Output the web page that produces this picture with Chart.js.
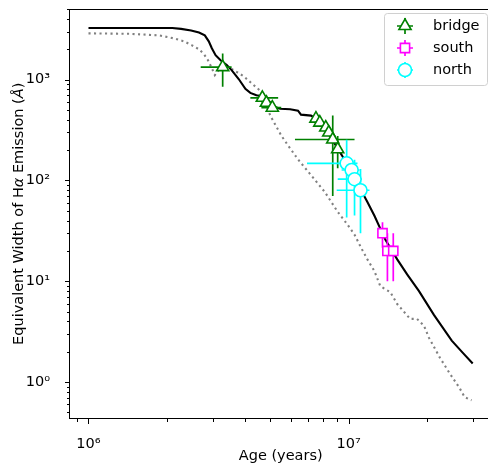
<!DOCTYPE html>
<html>
<head>
<meta charset="utf-8">
<script src="https://cdn.jsdelivr.net/npm/chart.js@4.4.1/dist/chart.umd.min.js"></script>
<style>
    html, body { margin: 0; padding: 0; background: #fff; overflow: hidden; }
    #wrap { width: 500px; height: 465px; }
</style>
</head>
<body>
<div id="wrap"><canvas id="myChart" width="500" height="465"></canvas></div>
<script>
// --------------------------- DATA ---------------------------

// model track (solid black)
const modelAge = [1.0e6, 2.10e6, 2.27e6, 2.48e6, 2.66e6, 2.80e6, 2.90e6, 2.98e6, 3.08e6, 3.22e6, 3.40e6, 3.55e6,
    3.78e6, 4.01e6, 4.19e6, 4.42e6, 4.79e6, 4.96e6, 5.18e6, 5.46e6, 5.96e6, 6.39e6, 6.56e6, 7.17e6, 7.49e6,
    8.03e6, 8.54e6, 9.08e6, 9.57e6, 1.009e7, 1.063e7, 1.121e7, 1.181e7, 1.257e7, 1.324e7, 1.384e7, 1.459e7,
    1.538e7, 1.679e7, 1.865e7, 2.128e7, 2.492e7, 2.744e7, 3.0e7];
const modelEW = [3260, 3250, 3190, 3080, 2940, 2750, 2400, 2050, 1750, 1560, 1395, 1245,
    1015, 810, 740, 700, 676, 603, 539, 515, 509, 492, 450, 440, 411,
    343, 267, 208, 166, 132, 103, 78.6, 61.3, 44.7, 33.3, 25.9, 20.7,
    16.5, 11.7, 7.99, 4.64, 2.58, 1.96, 1.53];

// second model track (grey dotted)
const altAge = [1.0e6, 1.44e6, 1.87e6, 2.13e6, 2.33e6, 2.50e6, 2.66e6, 2.78e6, 2.88e6, 2.98e6, 3.06e6, 3.17e6,
    3.31e6, 3.46e6, 3.61e6, 3.94e6, 4.31e6, 4.58e6, 4.79e6, 5.00e6, 5.51e6, 5.85e6, 6.39e6, 7.17e6, 8.10e6,
    9.08e6, 9.91e6, 1.054e7, 1.111e7, 1.181e7, 1.257e7, 1.324e7, 1.446e7, 1.538e7, 1.724e7, 1.833e7, 1.949e7,
    2.036e7, 2.243e7, 2.448e7, 2.673e7, 2.793e7, 2.97e7];
const altEW = [2880, 2850, 2750, 2570, 2400, 2190, 2000, 1790, 1560, 1300, 1110, 1245,
    1365, 1335, 1245, 1087, 887, 774, 590, 440, 279, 223, 162, 113, 76.9,
    48.9, 36.4, 29.0, 22.1, 16.5, 12.6, 8.95, 7.81, 5.95, 4.24, 4.24, 3.62,
    2.76, 1.75, 1.22, 0.87, 0.71, 0.66];

// bridge clusters
const bridgeAge    = [3.28e6, 4.66e6, 4.83e6, 5.09e6, 7.49e6, 7.75e6, 8.17e6, 8.39e6, 8.69e6, 9.08e6];
const bridgeEW     = [1333, 661, 590, 527, 411, 375, 335, 299, 255, 204];
const bridgeAgeLo  = [0.58e6, 0.47e6, 0.20e6, 0.47e6, 0, 0, 0, 0, 2.47e6, 0];   // minus error
const bridgeAgeHi  = [0.27e6, 0.70e6, 0.17e6, 0.42e6, 0, 0, 0, 0, 1.85e6, 0];   // plus error
const bridgeEWErr  = [480, 30, 30, 30, 0, 0, 0, 0, 185, 72];

// south clusters
const southAge    = [1.35e7, 1.41e7, 1.485e7];
const southEW     = [30, 20, 20];
const southAgeLo  = [0, 0, 0];
const southAgeHi  = [0, 0, 0];
const southEWErr  = [8.5, 10, 10];

// north clusters
const northAge    = [9.83e6, 1.027e7, 1.054e7, 1.111e7];
const northEW     = [148, 127, 103, 80];
const northAgeLo  = [2.91e6, 0.87e6, 1.46e6, 2.11e6];
const northAgeHi  = [0.99e6, 0.74e6, 0.70e6, 0.92e6];
const northEWErr  = [105, 25, 58, 50];

// axes
const xLimits = [8.49e5, 3.54e7];
const yLimits = [0.4306, 5070];
const superDigits = ['⁰', '¹', '²', '³', '⁴', '⁵', '⁶', '⁷', '⁸', '⁹'];
// y title pieces: [text, italic]
const yTitleParts = [['Equivalent Width of H', false], ['α', true], [' Emission (', false], ['Å', true], [')', false]];

// --------------------------- HELPERS ---------------------------

const toPoints = (xs, ys) => xs.map((v, i) => ({x: v, y: ys[i]}));
const toErrors = (lo, hi, ey) => lo.map((v, i) => ({xl: v, xh: hi[i], y: ey[i]}));

// every 1..9 x 10^n inside the limits
const logTicks = (lim) => {
    let out = [];
    for (let e = Math.floor(Math.log10(lim[0])); e <= Math.ceil(Math.log10(lim[1])); e++) {
        for (let k = 1; k <= 9; k++) {
            let v = k * Math.pow(10, e);
            if (v >= lim[0] && v <= lim[1]) out.push(v);
        }
    }
    return out;
};
const isDecade = (v) => Math.abs(Math.log10(v) - Math.round(Math.log10(v))) < 1e-9;
const decadeLabel = (v) => isDecade(v) ? '10' + superDigits[Math.round(Math.log10(v))] : '';

const FONT = {family: 'DejaVu Sans', size: 14.5};
const fontCss = (italic) => (italic ? 'italic ' : '') + FONT.size + 'px "' + FONT.family + '"';

// --------------------------- PLUGINS ---------------------------

// error bars, drawn just under each dataset's markers
const errorBars = {
    id: 'errorBars',
    beforeDatasetDraw(chart, args) {
        const ds = chart.data.datasets[args.index];
        if (!ds.err) return;
        const {ctx, chartArea: a, scales: {x, y}} = chart;
        ctx.save();
        ctx.beginPath();
        ctx.rect(a.left, a.top, a.right - a.left, a.bottom - a.top);
        ctx.clip();
        ctx.strokeStyle = ds.borderColor;
        ctx.lineWidth = 1.7;
        ds.data.forEach((p, i) => {
            const e = ds.err[i];
            const px = x.getPixelForValue(p.x), py = y.getPixelForValue(p.y);
            ctx.beginPath();
            if (e.xl || e.xh) {
                ctx.moveTo(x.getPixelForValue(p.x - e.xl), py);
                ctx.lineTo(x.getPixelForValue(p.x + e.xh), py);
            }
            if (e.y) {
                ctx.moveTo(px, y.getPixelForValue(Math.max(p.y - e.y, yLimits[0] / 10)));
                ctx.lineTo(px, y.getPixelForValue(p.y + e.y));
            }
            ctx.stroke();
        });
        ctx.restore();
    }
};

// axes box + matplotlib style tick marks + y title with italic symbols
const frame = {
    id: 'frame',
    afterDraw(chart) {
        const {ctx, chartArea: a, scales: {x, y}} = chart;
        ctx.save();
        ctx.strokeStyle = '#000';
        ctx.lineWidth = 1;
        ctx.strokeRect(Math.round(a.left) - 0.5, Math.round(a.top) + 0.5,
            Math.round(a.right - a.left), Math.round(a.bottom - a.top) - 1);
        ctx.beginPath();
        logTicks(xLimits).forEach(v => {
            const px = Math.round(x.getPixelForValue(v)) + 0.5;
            const len = isDecade(v) ? 5 : 3;
            ctx.moveTo(px, a.bottom);
            ctx.lineTo(px, a.bottom + len);
        });
        logTicks(yLimits).forEach(v => {
            const py = Math.round(y.getPixelForValue(v)) + 0.5;
            const len = isDecade(v) ? 5 : 3;
            ctx.moveTo(a.left, py);
            ctx.lineTo(a.left - len, py);
        });
        ctx.stroke();

        // y title
        ctx.translate(19, (a.top + a.bottom) / 2);
        ctx.rotate(-Math.PI / 2);
        ctx.fillStyle = '#000';
        ctx.textBaseline = 'middle';
        ctx.textAlign = 'left';
        let total = 0;
        yTitleParts.forEach(([t, it]) => { ctx.font = fontCss(it); total += ctx.measureText(t).width; });
        let cx = -total / 2;
        yTitleParts.forEach(([t, it]) => {
            ctx.font = fontCss(it);
            ctx.fillText(t, cx, 0);
            cx += ctx.measureText(t).width;
        });
        ctx.restore();
    }
};

// legend box in the upper right corner
const cornerLegend = {
    id: 'cornerLegend',
    afterDraw(chart) {
        const ctx = chart.ctx;
        const items = chart.data.datasets.filter(d => d.err);
        const bx = 384.5, by = 13.5, bw = 103, bh = 72, r = 3;
        ctx.save();
        ctx.beginPath();
        ctx.roundRect(bx, by, bw, bh, r);
        ctx.fillStyle = 'rgba(255,255,255,0.8)';
        ctx.fill();
        ctx.strokeStyle = '#d0d0d0';
        ctx.lineWidth = 1;
        ctx.stroke();
        items.forEach((d, i) => {
            const mx = 405, my = 26 + i * 22;
            ctx.strokeStyle = d.borderColor;
            ctx.lineWidth = 1.7;
            ctx.beginPath();
            ctx.moveTo(mx - 8, my); ctx.lineTo(mx + 8, my);
            ctx.moveTo(mx, my - 8); ctx.lineTo(mx, my + 8);
            ctx.stroke();
            ctx.fillStyle = '#fff';
            ctx.lineWidth = d.borderWidth;
            Chart.helpers.drawPoint(ctx, {pointStyle: d.pointStyle, radius: d.pointRadius, rotation: 0,
                borderWidth: d.borderWidth}, mx, my);
            ctx.fillStyle = '#000';
            ctx.font = fontCss(false);
            ctx.textBaseline = 'middle';
            ctx.textAlign = 'left';
            ctx.fillText(d.label, 433, my);
        });
        ctx.restore();
    }
};

// --------------------------- CHART ---------------------------

const markerSet = (label, xs, ys, lo, hi, ey, color, style, radius, order) => ({
    label: label,
    data: toPoints(xs, ys),
    err: toErrors(lo, hi, ey),
    showLine: false,
    pointStyle: style,
    pointRadius: radius,
    pointHoverRadius: radius,
    borderColor: color,
    backgroundColor: '#fff',
    pointBackgroundColor: '#fff',
    borderWidth: 1.6,
    order: order
});

let ctx = document.querySelector('#myChart');
let myChart = new Chart(ctx, {
    type: 'scatter',
    data: {
        datasets: [
            markerSet('bridge', bridgeAge, bridgeEW, bridgeAgeLo, bridgeAgeHi, bridgeEWErr, '#008000', 'triangle', 7, 2),
            markerSet('south', southAge, southEW, southAgeLo, southAgeHi, southEWErr, '#ff00ff', 'rect', 6.5, 1),
            markerSet('north', northAge, northEW, northAgeLo, northAgeHi, northEWErr, '#00ffff', 'circle', 6.5, 0),
            {
                label: 'model',
                data: toPoints(modelAge, modelEW),
                showLine: true,
                pointRadius: 0,
                borderColor: '#000',
                borderWidth: 2.1,
                tension: 0,
                order: 3
            },
            {
                label: 'alt',
                data: toPoints(altAge, altEW),
                showLine: true,
                pointRadius: 0,
                borderColor: '#808080',
                borderWidth: 2.1,
                borderDash: [2.1, 3.4],
                borderCapStyle: 'butt',
                tension: 0,
                order: 4
            }
        ]
    },
    options: {
        responsive: false,
        animation: false,
        events: [],
        layout: {padding: {top: 5, right: 5, left: 0, bottom: 0}},
        plugins: {legend: {display: false}, tooltip: {enabled: false}},
        scales: {
            x: {
                type: 'logarithmic',
                min: xLimits[0],
                max: xLimits[1],
                afterBuildTicks: s => { s.ticks = logTicks(xLimits).map(v => ({value: v})); },
                afterFit: s => { s.height = 46; s.paddingLeft = 0; s.paddingRight = 0; },
                grid: {display: false},
                border: {display: false},
                ticks: {autoSkip: false, maxRotation: 0, padding: 9, color: '#000', font: FONT,
                    callback: v => decadeLabel(v)},
                title: {display: true, text: 'Age (years)', color: '#000', font: FONT, padding: {top: 0, bottom: 0}}
            },
            y: {
                type: 'logarithmic',
                min: yLimits[0],
                max: yLimits[1],
                afterBuildTicks: s => { s.ticks = logTicks(yLimits).map(v => ({value: v})); },
                afterFit: s => { s.width = 70; s.paddingTop = 0; s.paddingBottom = 0; },
                grid: {display: false},
                border: {display: false},
                ticks: {autoSkip: false, padding: 12, color: '#000', font: FONT,
                    callback: v => decadeLabel(v)},
                title: {display: false}
            }
        }
    },
    plugins: [errorBars, frame, cornerLegend]
});
</script>
</body>
</html>
